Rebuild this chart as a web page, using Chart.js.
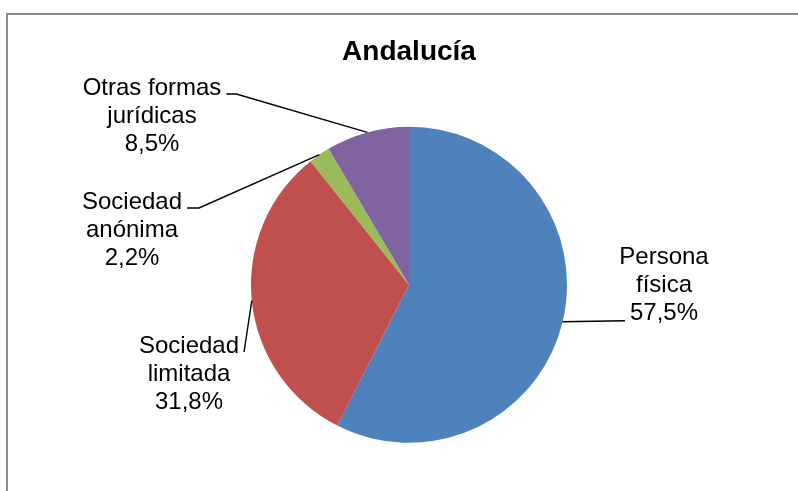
<!DOCTYPE html>
<html>
<head>
<meta charset="utf-8">
<script src="https://cdn.jsdelivr.net/npm/chart.js@4/dist/chart.umd.min.js"></script>
<style>
  body { margin: 0; background: #fff; }
  #wrap { position: relative; width: 798px; height: 491px; overflow: hidden; }
  #frame { position: absolute; left: 6px; top: 13px; width: 900px; height: 600px; border: 2px solid #8c8c8c; }
  #chart { position: absolute; left: 0; top: 0; }
</style>
</head>
<body>
<div id="wrap">
  <div id="frame"></div>
  <canvas id="chart" width="798" height="491"></canvas>
</div>
<script>
var categories = [['Persona', 'física'], ['Sociedad', 'limitada'], ['Sociedad', 'anónima'], ['Otras formas', 'jurídicas']];
var values = [57.5, 31.8, 2.2, 8.5];
var colors = ['#4F81BD', '#C0504D', '#9BBB59', '#8064A2'];

// where each label block sits (centre x, first line centre y) and which side the leader leaves from
var labelPos = [
    { x: 664, y: 257, side: 'left', elbow: 0 },
    { x: 189, y: 346, side: 'right', elbow: 0 },
    { x: 132, y: 202, side: 'right', elbow: 12 },
    { x: 152, y: 88, side: 'right', elbow: 10 }
];
var FONT = "'Liberation Sans', Arial, sans-serif";

var pieLabels = {
    id: 'pieLabels',
    afterDatasetsDraw: function(chart) {
        var ctx = chart.ctx;
        var arcs = chart.getDatasetMeta(0).data;
        ctx.save();
        ctx.font = '24px ' + FONT;
        ctx.fillStyle = '#000';
        ctx.strokeStyle = '#000';
        ctx.lineWidth = 1.4;
        ctx.textAlign = 'center';
        ctx.textBaseline = 'middle';
        arcs.forEach(function(arc, i) {
            var p = labelPos[i];
            var lines = categories[i].concat([values[i].toFixed(1).replace('.', ',') + '%']);
            var lh = 28.4;
            lines.forEach(function(t, k) {
                ctx.fillText(t, p.x, p.y + k * lh);
            });
            var mid = (arc.startAngle + arc.endAngle) / 2;
            var ex = arc.x + arc.outerRadius * Math.cos(mid);
            var ey = arc.y + arc.outerRadius * Math.sin(mid);
            var sx, sy;
            if (p.side === 'right') {
                sx = p.x + ctx.measureText(lines[0]).width / 2 + 5;
                sy = p.y + 6;
            } else {
                sx = p.x - ctx.measureText(lines[2]).width / 2 - 5;
                sy = p.y + 2 * lh + 7;
            }
            ctx.beginPath();
            ctx.moveTo(sx, sy);
            if (p.elbow) ctx.lineTo(sx + p.elbow, sy);
            ctx.lineTo(ex, ey);
            ctx.stroke();
        });
        ctx.restore();
    }
};

var ctx = document.getElementById('chart');
var myChart = new Chart(ctx, {
    type: 'pie',
    data: {
        labels: categories,
        datasets: [{
            data: values,
            backgroundColor: colors,
            borderWidth: 0
        }]
    },
    options: {
        responsive: false,
        animation: false,
        layout: {
            padding: { top: 0, bottom: 48, left: 251, right: 231 }
        },
        plugins: {
            legend: { display: false },
            tooltip: { enabled: false },
            title: {
                display: true,
                text: 'Andalucía',
                color: '#000',
                font: { family: FONT, size: 28, weight: 'bold' },
                padding: { top: 35, bottom: 58 }
            }
        }
    },
    plugins: [pieLabels]
});
</script>
</body>
</html>
